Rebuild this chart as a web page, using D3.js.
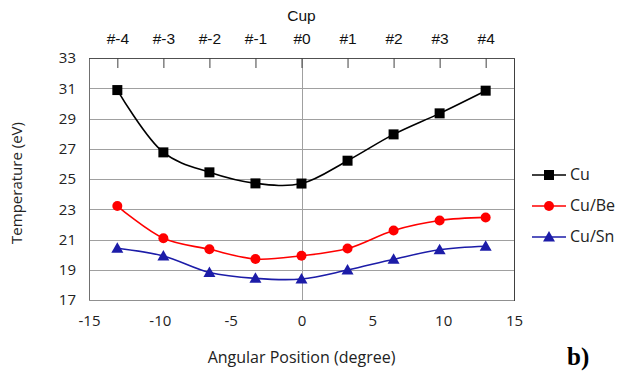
<!DOCTYPE html>
<html>
<head>
<meta charset="utf-8">
<script src="https://cdnjs.cloudflare.com/ajax/libs/d3/7.8.5/d3.min.js"></script>
<style>
  body { margin: 0; background: #fff; }
  .tick-lbl { font-family: "Open Sans", sans-serif; font-size: 15px; fill: #222; }
  .ttl { font-family: "Open Sans", sans-serif; font-size: 16px; fill: #222; }
  .cup-lbl { font-family: "Liberation Sans", Arial, sans-serif; font-size: 15.5px; fill: #111; }
</style>
</head>
<body>
<div id="chart"></div>
<script>
var angles = [-13, -9.75, -6.5, -3.25, 0, 3.25, 6.5, 9.75, 13];
var cups = ["#-4", "#-3", "#-2", "#-1", "#0", "#1", "#2", "#3", "#4"];
var cu   = [30.88, 26.76, 25.44, 24.71, 24.70, 26.21, 27.95, 29.34, 30.84];
var cuBe = [23.21, 21.08, 20.35, 19.71, 19.93, 20.40, 21.60, 22.26, 22.46];
var cuSn = [20.42, 19.91, 18.82, 18.43, 18.39, 18.98, 19.69, 20.32, 20.55];
var xTicks = [-15, -10, -5, 0, 5, 10, 15];
var yTicks = [17, 19, 21, 23, 25, 27, 29, 31, 33];

var series = [
  { name: "Cu",    values: cu,   color: "#000000", marker: "square" },
  { name: "Cu/Be", values: cuBe, color: "#ff0000", marker: "circle" },
  { name: "Cu/Sn", values: cuSn, color: "#1c1ca8", marker: "triangle" }
];

var margin = { top: 58, left: 89, right: 107, bottom: 71 },
    width = 621 - margin.left - margin.right,
    height = 371 - margin.top - margin.bottom;

var svg = d3.select("#chart")
  .append("svg")
  .attr("width", 621)
  .attr("height", 371)
  .append("g")
  .attr("transform", "translate(" + margin.left + "," + margin.top + ")");

var x = d3.scaleLinear().domain([-15, 15]).range([0, width]);
var y = d3.scaleLinear().domain([17, 33]).range([height, 0]);

// horizontal gridlines
svg.append("g")
  .selectAll("line")
  .data(yTicks.slice(1, -1))
  .enter().append("line")
  .attr("x1", 0).attr("x2", width)
  .attr("y1", function(d) { return Math.round(y(d)) + 0.5; })
  .attr("y2", function(d) { return Math.round(y(d)) + 0.5; })
  .attr("stroke", "#a0a0a0");

// vertical line at 0
svg.append("line")
  .attr("x1", Math.round(x(0)) + 0.5).attr("x2", Math.round(x(0)) + 0.5)
  .attr("y1", 0).attr("y2", height)
  .attr("stroke", "#a0a0a0");

// frame
svg.append("line").attr("x1", 0.5).attr("x2", 0.5).attr("y1", 0).attr("y2", height).attr("stroke", "#707070");
svg.append("line").attr("x1", 0).attr("x2", width).attr("y1", height + 0.5).attr("y2", height + 0.5).attr("stroke", "#909090");
svg.append("line").attr("x1", width + 0.5).attr("x2", width + 0.5).attr("y1", 0).attr("y2", height + 1).attr("stroke", "#404040");
svg.append("line").attr("x1", 0).attr("x2", width + 1).attr("y1", 0.5).attr("y2", 0.5).attr("stroke", "#505050");

// left axis labels
var yAxis = d3.axisLeft(y).tickValues(yTicks).tickSize(0).tickPadding(13);
var yg = svg.append("g").call(yAxis);
yg.select(".domain").remove();
yg.selectAll("text").attr("class", "tick-lbl");

// bottom axis labels (plain hyphen like the original)
var xAxis = d3.axisBottom(x).tickValues(xTicks).tickSize(0).tickPadding(15)
  .tickFormat(function(d) { return String(d); });
var xg = svg.append("g").attr("transform", "translate(0," + height + ")").call(xAxis);
xg.select(".domain").remove();
xg.selectAll("text").attr("class", "tick-lbl");

// top cup axis
var topAxis = d3.axisTop(x).tickValues(angles).tickSize(-10).tickPadding(14)
  .tickFormat(function(d, i) { return cups[i]; });
var tg = svg.append("g").call(topAxis);
tg.select(".domain").remove();
tg.selectAll("line").attr("stroke", "#404040");
tg.selectAll("text").attr("class", "cup-lbl");

svg.append("text")
  .attr("class", "cup-lbl")
  .attr("x", x(0))
  .attr("y", -37)
  .attr("text-anchor", "middle")
  .text("Cup");

// axis titles
svg.append("text")
  .attr("class", "ttl")
  .attr("transform", "translate(-67," + (height / 2 + 4) + ") rotate(-90)")
  .attr("text-anchor", "middle")
  .style("font-size", "15px")
  .text("Temperature (eV)");

svg.append("text")
  .attr("class", "ttl")
  .attr("x", x(0))
  .attr("y", height + 63)
  .attr("text-anchor", "middle")
  .text("Angular Position (degree)");

svg.append("text")
  .attr("x", 478)
  .attr("y", 307)
  .style("font-family", "'Liberation Serif', serif")
  .style("font-weight", "bold")
  .style("font-size", "25px")
  .text("b)");

var line = d3.line()
  .x(function(d, i) { return x(angles[i]); })
  .y(function(d) { return y(d); })
  .curve(d3.curveCatmullRom.alpha(0.5));

function drawMarker(g, type, color, cx, cy) {
  if (type === "square") {
    g.append("rect").attr("x", cx - 5).attr("y", cy - 5).attr("width", 10).attr("height", 10).attr("fill", color);
  } else if (type === "circle") {
    g.append("circle").attr("cx", cx).attr("cy", cy).attr("r", 5).attr("fill", color);
  } else {
    g.append("path")
      .attr("d", "M" + cx + "," + (cy - 6) + "L" + (cx + 6) + "," + (cy + 4.5) + "L" + (cx - 6) + "," + (cy + 4.5) + "Z")
      .attr("fill", color);
  }
}

series.forEach(function(s) {
  svg.append("path")
    .datum(s.values)
    .attr("d", line)
    .attr("fill", "none")
    .attr("stroke", s.color)
    .attr("stroke-width", 1.6);
  var mg = svg.append("g");
  s.values.forEach(function(v, i) {
    drawMarker(mg, s.marker, s.color, x(angles[i]), y(v));
  });
});

// legend
var legend = svg.append("g").attr("transform", "translate(" + (width + 18) + ",0)");
series.forEach(function(s, i) {
  var ly = 117 + i * 31;
  legend.append("line")
    .attr("x1", 0).attr("x2", 34)
    .attr("y1", ly).attr("y2", ly)
    .attr("stroke", s.color).attr("stroke-width", 1.6);
  drawMarker(legend, s.marker, s.color, 17, ly);
  legend.append("text")
    .attr("class", "ttl")
    .attr("x", 38)
    .attr("y", ly + 5)
    .text(s.name);
});
</script>
</body>
</html>
